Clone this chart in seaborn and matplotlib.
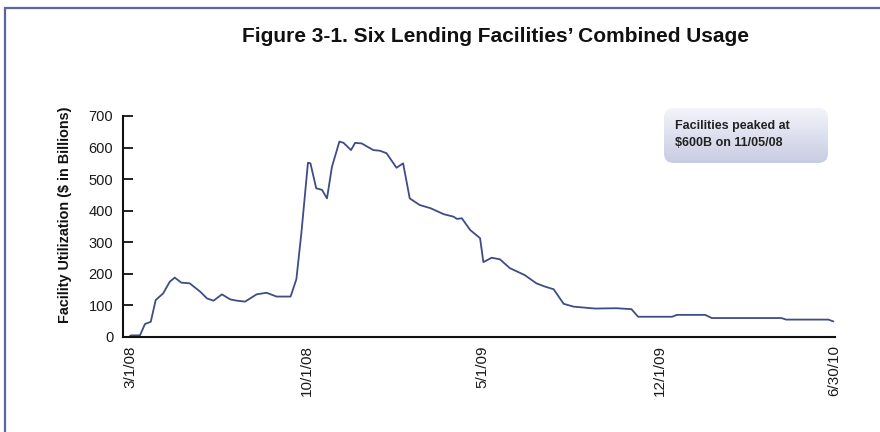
import matplotlib
matplotlib.use("Agg")
import matplotlib.pyplot as plt
from matplotlib.patches import FancyBboxPatch, Rectangle
from matplotlib.colors import LinearSegmentedColormap
import numpy as np
import pandas as pd
import seaborn as sns

# ---- data ----
dates = [
    "2008-03-01", "2008-03-03", "2008-03-13", "2008-03-19", "2008-03-26", "2008-04-01",
    "2008-04-10", "2008-04-18", "2008-04-24", "2008-05-02", "2008-05-12", "2008-05-25",
    "2008-06-02", "2008-06-10", "2008-06-20", "2008-06-30", "2008-07-08", "2008-07-18",
    "2008-08-01", "2008-08-13", "2008-08-25", "2008-09-11", "2008-09-18", "2008-09-24",
    "2008-10-02", "2008-10-05", "2008-10-12", "2008-10-19", "2008-10-25", "2008-10-31",
    "2008-11-09", "2008-11-14", "2008-11-23", "2008-11-28", "2008-12-06", "2008-12-20",
    "2008-12-28", "2009-01-05", "2009-01-17", "2009-01-25", "2009-02-02", "2009-02-14",
    "2009-02-27", "2009-03-15", "2009-03-27", "2009-03-31", "2009-04-06", "2009-04-16",
    "2009-04-28", "2009-05-02", "2009-05-12", "2009-05-22", "2009-06-03", "2009-06-21",
    "2009-07-05", "2009-07-15", "2009-07-26", "2009-08-07", "2009-08-19", "2009-09-14",
    "2009-10-10", "2009-10-28", "2009-11-05", "2009-12-16", "2009-12-22", "2010-01-25",
    "2010-02-02", "2010-04-27", "2010-05-03", "2010-06-23", "2010-06-29",
]
usage = [
    4, 5, 5, 41, 48, 117,
    138, 175, 188, 172, 170, 143,
    122, 115, 135, 119, 115, 112,
    135, 140, 128, 128, 183, 328,
    552, 550, 471, 466, 439, 539,
    619, 615, 592, 615, 613, 592,
    590, 582, 536, 550, 439, 418,
    408, 389, 381, 374, 376, 339,
    313, 237, 251, 246, 218, 196,
    170, 160, 151, 105, 96, 90,
    91, 88, 64, 64, 70, 70,
    60, 60, 55, 55, 49,
]
tick_dates = ["2008-03-01", "2008-10-01", "2009-05-01", "2009-12-01", "2010-06-30"]
tick_labels = ["3/1/08", "10/1/08", "5/1/09", "12/1/09", "6/30/10"]
y_ticks = [0, 100, 200, 300, 400, 500, 600, 700]

title = "Figure 3-1. Six Lending Facilities\u2019 Combined Usage"
ylabel = "Facility Utilization ($ in Billions)"
note = "Facilities peaked at\n$600B on 11/05/08"

df = pd.DataFrame({"date": pd.to_datetime(dates), "usage": usage})

sns.set_theme(style="white")
plt.rcParams["font.family"] = ["Liberation Sans", "DejaVu Sans"]

fig = plt.figure(figsize=(8.8, 4.32), dpi=100)
ax = fig.add_axes([0.1398, 0.22, 0.8091, 0.5115])

sns.lineplot(data=df, x="date", y="usage", ax=ax, color="#3f4c86", linewidth=1.3)

ax.set_ylim(0, 700)
ax.set_xlim(pd.Timestamp("2008-02-21 12:00"), pd.Timestamp("2010-07-01"))
ax.set_yticks(y_ticks)
ax.set_yticklabels([str(v) for v in y_ticks])
ax.set_xticks(pd.to_datetime(tick_dates))
ax.set_xticklabels(tick_labels, rotation=90)
ax.set_xlabel("")
ax.set_ylabel("")

for s in ["top", "right"]:
    ax.spines[s].set_visible(False)
for s in ["left", "bottom"]:
    ax.spines[s].set_color("#111111")
    ax.spines[s].set_linewidth(1.5)

ax.tick_params(axis="y", direction="in", length=7, width=1.3, color="#111111",
               labelsize=10.5, pad=7, left=True)
ax.tick_params(axis="x", length=0, labelsize=11, pad=6)
for lab in ax.get_xticklabels() + ax.get_yticklabels():
    lab.set_color("#1a1a1a")

fig.text(0.5625, 0.916, title, ha="center", va="center", fontsize=15,
         fontweight="bold", color="#111111")
fig.text(0.074, 0.502, ylabel, ha="center", va="center", rotation=90,
         fontsize=10.4, fontweight="bold", color="#111111")

# note box with gradient fill
bax = fig.add_axes([0.7545, 0.6227, 0.1864, 0.1273])
bax.set_axis_off()
grad = np.linspace(0, 1, 100).reshape(-1, 1)
cmap = LinearSegmentedColormap.from_list("g", ["#f3f4fa", "#c8cce2"])
im = bax.imshow(grad, extent=[0, 1, 0, 1], aspect="auto", cmap=cmap, origin="upper")
patch = FancyBboxPatch((0.0, 0.0), 1, 1, boxstyle="round,pad=0,rounding_size=0.06",
                       mutation_aspect=2.98, transform=bax.transAxes,
                       facecolor="none", edgecolor="none")
bax.add_patch(patch)
im.set_clip_path(patch)
bax.set_xlim(0, 1)
bax.set_ylim(0, 1)
fig.text(0.767, 0.688, note, ha="left", va="center", fontsize=9,
         fontweight="bold", color="#222222", linespacing=1.6)

# outer frame (top and left edges visible)
fig.patches.append(Rectangle((0.0057, -0.05), 1.2, 1.0315, transform=fig.transFigure,
                             fill=False, edgecolor="#5b65a3", linewidth=1.6))

fig.savefig("out.png", dpi=100)
